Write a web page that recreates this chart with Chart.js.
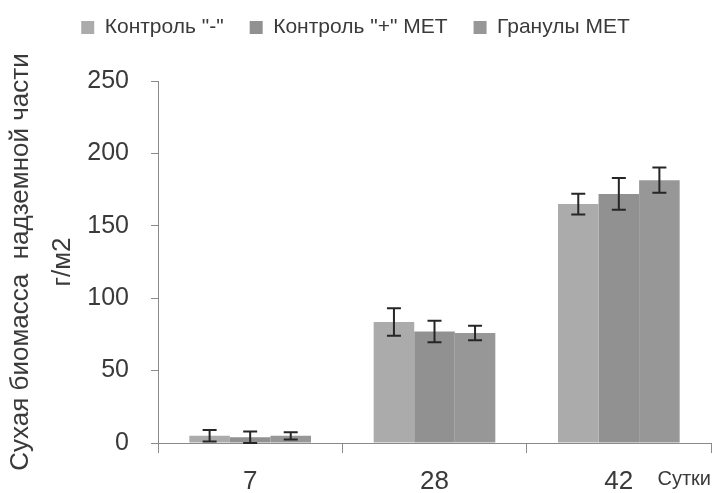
<!DOCTYPE html>
<html>
<head>
<meta charset="utf-8">
<script src="https://cdn.jsdelivr.net/npm/chart.js@4"></script>
<style>
  html, body { margin: 0; padding: 0; background: #fff; }
  #wrap { width: 712px; height: 493px; position: relative; }
</style>
</head>
<body>
<div id="wrap"><canvas id="chart"></canvas></div>
<script>
// ---- Data ----
const days = ['7', '28', '42'];
const seriesNames = ['Контроль "-"', 'Контроль "+" МЕТ', 'Гранулы МЕТ'];
const controlMinus = [5, 83.5, 165];
const controlPlus = [4, 77, 172];
const granules = [5, 76, 181.5];
const errMinus = [4, 9.5, 7.2];
const errPlus = [4, 7.5, 11];
const errGran = [2.5, 5, 8.7];
const yTicks = [0, 50, 100, 150, 200, 250];

const sans = "'Liberation Sans', Arial, sans-serif";
const textColor = '#3a3a3a';
const axisColor = '#8a8a8a';

// Error bars drawn through the y scale
const errorBars = {
  id: 'errorBars',
  afterDatasetsDraw(chart) {
    const { ctx, scales: { y } } = chart;
    ctx.save();
    ctx.strokeStyle = '#262626';
    ctx.lineWidth = 2;
    chart.data.datasets.forEach((ds, i) => {
      const meta = chart.getDatasetMeta(i);
      meta.data.forEach((bar, j) => {
        const v = ds.data[j], e = ds.errors[j];
        const top = y.getPixelForValue(v + e);
        const bot = y.getPixelForValue(Math.max(0, v - e));
        const x = bar.x, cap = 7;
        ctx.beginPath();
        ctx.moveTo(x, top); ctx.lineTo(x, bot);
        ctx.moveTo(x - cap, top); ctx.lineTo(x + cap, top);
        ctx.moveTo(x - cap, bot); ctx.lineTo(x + cap, bot);
        ctx.stroke();
      });
    });
    ctx.restore();
  }
};

// extra room under the legend
const legendGap = {
  id: 'legendGap',
  beforeInit(chart) {
    const fit = chart.legend.fit;
    chart.legend.fit = function() {
      fit.bind(chart.legend)();
      this.height += 33;
    };
  }
};

// "Сутки" label at the right end of the x axis
const unitLabel = {
  id: 'unitLabel',
  afterDraw(chart) {
    const { ctx, chartArea } = chart;
    ctx.save();
    ctx.fillStyle = textColor;
    ctx.font = "20px " + sans;
    ctx.textAlign = 'right';
    ctx.textBaseline = 'middle';
    ctx.fillText('Сутки', chartArea.right, 479);
    ctx.restore();
  }
};

new Chart(document.getElementById('chart'), {
  type: 'bar',
  data: {
    labels: days,
    datasets: [
      { label: seriesNames[0], data: controlMinus, errors: errMinus, backgroundColor: '#ababab' },
      { label: seriesNames[1], data: controlPlus, errors: errPlus, backgroundColor: '#919191' },
      { label: seriesNames[2], data: granules, errors: errGran, backgroundColor: '#979797' }
    ]
  },
  options: {
    responsive: true,
    maintainAspectRatio: false,
    animation: false,
    datasets: { bar: { categoryPercentage: 0.66, barPercentage: 1.0, borderWidth: 0 } },
    layout: { padding: { top: -9, right: 1, bottom: 0, left: 0 } },
    plugins: {
      tooltip: { enabled: false },
      legend: {
        position: 'top',
        labels: {
          color: textColor,
          font: { family: sans, size: 21 },
          boxWidth: 13,
          boxHeight: 13,
          padding: 26
        }
      }
    },
    scales: {
      x: {
        grid: { display: true, drawOnChartArea: false, offset: true, tickLength: 10, color: axisColor, tickColor: axisColor },
        border: { color: axisColor, width: 1 },
        ticks: { color: textColor, font: { family: sans, size: 26 }, padding: 13 },
        afterFit(scale) { scale.height = 50; }
      },
      y: {
        min: 0,
        max: 250,
        afterBuildTicks(scale) { scale.ticks = yTicks.map(v => ({ value: v })); },
        grid: { display: true, drawOnChartArea: false, tickLength: 7, color: axisColor, tickColor: axisColor },
        border: { color: axisColor, width: 1 },
        ticks: { color: textColor, font: { family: sans, size: 25 }, padding: 22 },
        title: {
          display: true,
          text: ['Сухая биомасса  надземной части', 'г/м2'],
          color: textColor,
          font: { family: sans, size: 26, lineHeight: 1.62 },
          padding: { top: 0, bottom: 0 }
        },
        afterFit(scale) { scale.width = 158; }
      }
    }
  },
  plugins: [errorBars, legendGap, unitLabel]
});
</script>
</body>
</html>
